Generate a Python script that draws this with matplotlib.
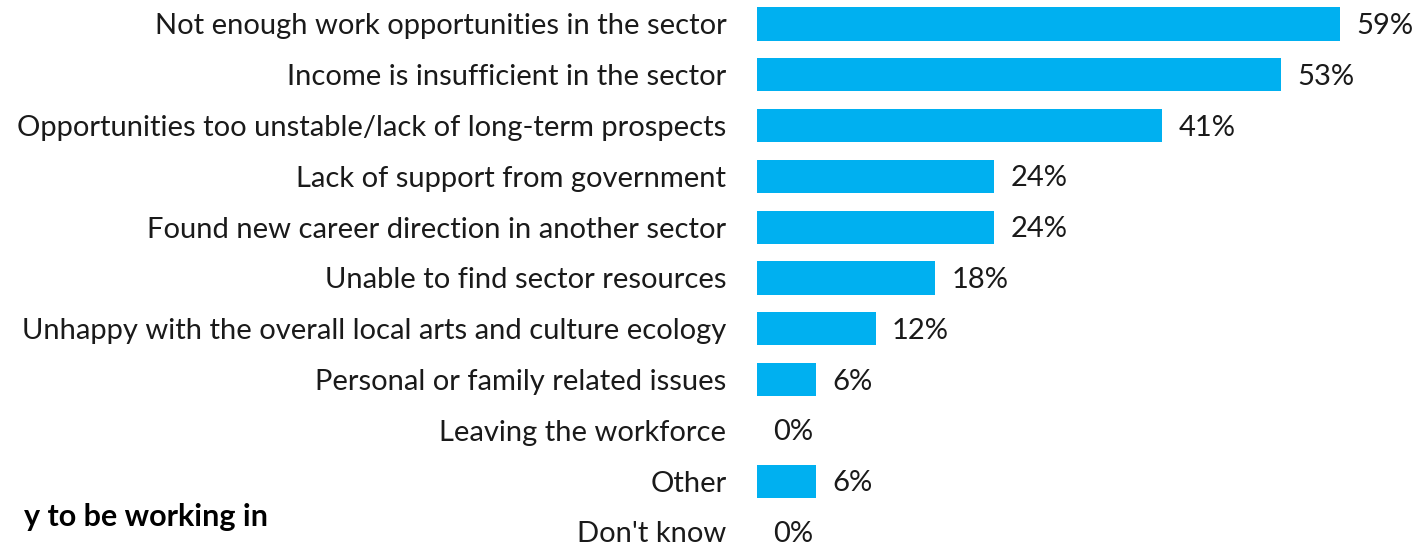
import matplotlib
matplotlib.use("Agg")
import matplotlib.pyplot as plt

categories = [
    "Not enough work opportunities in the sector",
    "Income is insufficient in the sector",
    "Opportunities too unstable/lack of long-term prospects",
    "Lack of support from government",
    "Found new career direction in another sector",
    "Unable to find sector resources",
    "Unhappy with the overall local arts and culture ecology",
    "Personal or family related issues",
    "Leaving the workforce",
    "Other",
    "Don't know",
]
values = [59, 53, 41, 24, 24, 18, 12, 6, 0, 6, 0]
value_labels = ["59%", "53%", "41%", "24%", "24%", "18%", "12%", "6%", "0%", "6%", "0%"]
cut_title = "y to be working in"

BAR_COLOR = "#00B0F0"
TEXT_COLOR = "#1a1a1a"
FONT = "Lato"
FS = 21

W, H = 1416, 543
fig = plt.figure(figsize=(W / 100, H / 100), dpi=100)

# bars start at x=757 px, ~9.88 px per percentage point
left_px = 757
px_per = 9.88
ax = fig.add_axes([left_px / W, 0, 1 - left_px / W, 1])
ax.set_xlim(0, (W - left_px) / px_per)
row0, step = 24, 50.8
ax.set_ylim((H - row0) / step, -row0 / step)

pos = list(range(len(categories)))
ax.barh(pos, values, height=0.65, color=BAR_COLOR)

for p, v, lab in zip(pos, values, value_labels):
    ax.text(v + 1.65, p + 0.04, lab, ha="left", va="center", fontsize=FS,
            family=FONT, color=TEXT_COLOR)

ax.set_yticks(pos)
ax.set_yticklabels(categories, fontsize=FS, family=FONT, color=TEXT_COLOR)
ax.tick_params(axis="y", length=0, pad=22)
ax.set_xticks([])
for s in ax.spines.values():
    s.set_visible(False)

fig.text(268 / W, 1 - 517 / H, cut_title, ha="right", va="center",
         fontsize=22, fontweight="bold", family=FONT, color="black")

fig.savefig("out.png", dpi=100)
